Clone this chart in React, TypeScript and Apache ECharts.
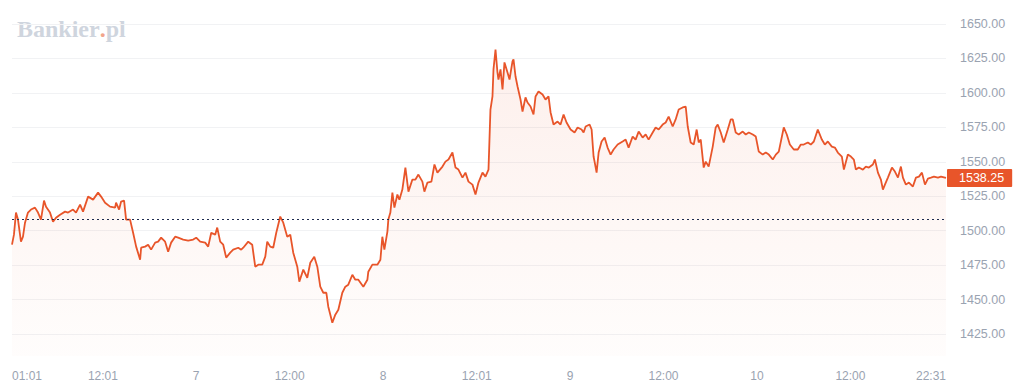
import React, { useEffect, useRef } from "react";
import * as echarts from "echarts";

// hours since day 6, 00:00
const times: number[] = [
  0.35, 0.6, 0.86, 1.12, 1.38, 1.5, 1.76, 2.02, 2.4, 2.79,
  3.3, 3.69, 4.07, 4.46, 4.72, 5.23, 5.62, 6.0, 6.52, 7.16,
  7.55, 8.19, 8.57, 9.09, 9.47, 10.12, 10.76, 11.4, 11.79, 12.3,
  12.94, 13.59, 13.71, 14.1, 14.36, 14.74, 15.0, 15.51, 15.9, 16.29,
  16.8, 16.93, 17.44, 17.83, 18.21, 18.73, 19.11, 19.5, 20.01, 20.4,
  20.78, 21.3, 21.68, 22.33, 22.97, 23.61, 24.0, 24.51, 25.15, 25.54,
  25.93, 26.44, 26.7, 27.08, 27.47, 27.85, 28.37, 28.75, 29.4, 29.78,
  30.04, 30.68, 31.19, 31.58, 31.97, 32.48, 32.87, 33.12, 33.51, 33.89,
  34.28, 34.79, 35.18, 35.69, 36.08, 36.46, 36.98, 37.24, 37.75, 38.26,
  38.65, 39.16, 39.55, 39.93, 40.32, 40.71, 40.96, 41.48, 41.86, 42.25,
  42.76, 43.15, 43.53, 44.05, 44.43, 44.82, 45.46, 45.98, 46.1, 46.62,
  47.26, 47.65, 47.9, 48.16, 48.55, 48.67, 48.93, 49.19, 49.45, 49.83,
  50.09, 50.47, 50.86, 51.25, 51.76, 52.15, 52.53, 53.04, 53.3, 53.69,
  54.2, 54.59, 54.97, 55.62, 56.0, 56.39, 56.9, 57.29, 57.67, 58.19,
  58.57, 58.96, 59.47, 59.86, 60.24, 60.76, 61.14, 61.53, 61.78, 62.04,
  62.17, 62.43, 62.68, 62.81, 63.07, 63.33, 63.58, 63.97, 64.23, 64.61,
  64.74, 65.0, 65.26, 65.64, 65.9, 66.28, 66.54, 66.93, 67.31, 67.57,
  67.95, 68.47, 68.85, 69.24, 69.5, 69.88, 70.4, 70.78, 71.17, 71.55,
  72.07, 72.58, 72.97, 73.48, 73.74, 74.0, 74.51, 74.77, 75.02, 75.15,
  75.41, 75.67, 76.05, 76.44, 76.82, 77.21, 77.59, 78.11, 78.75, 79.14,
  79.52, 80.04, 80.42, 80.81, 81.32, 81.71, 82.09, 82.61, 82.99, 83.38,
  83.89, 84.28, 84.66, 85.18, 85.56, 85.95, 86.46, 86.85, 87.11, 87.49,
  87.88, 88.26, 88.52, 88.78, 89.16, 89.42, 89.8, 90.32, 90.7, 90.96,
  91.35, 91.73, 92.25, 92.63, 92.89, 93.27, 93.66, 94.17, 94.56, 94.95,
  95.46, 95.85, 96.23, 96.74, 97.13, 97.52, 98.03, 98.42, 98.8, 99.44,
  99.83, 100.22, 100.73, 101.24, 101.63, 102.01, 102.53, 102.91, 103.3, 103.81,
  104.33, 104.71, 105.1, 105.61, 106.0, 106.38, 106.9, 107.16, 107.67, 108.06,
  108.44, 108.7, 109.08, 109.6, 109.98, 110.37, 110.88, 111.14, 111.53, 111.91,
  112.17, 112.43, 112.81, 113.33, 113.71, 114.1, 114.48, 114.74, 115.12, 115.51,
  116.02, 116.41, 116.8, 117.18, 117.57, 117.95, 118.34, 118.72, 119.24, 119.62,
  120.27,
];

const prices: number[] = [
  1489.8, 1497.1, 1513.1, 1508.0, 1497.1, 1492.0, 1495.6, 1505.8, 1513.1, 1515.3,
  1516.7, 1513.1, 1508.0, 1521.8, 1517.4, 1513.1, 1506.5, 1509.4, 1511.6, 1513.8,
  1513.1, 1515.3, 1513.1, 1518.9, 1513.8, 1524.7, 1522.5, 1527.6, 1524.7, 1520.3,
  1517.4, 1516.7, 1520.3, 1515.3, 1521.1, 1521.8, 1508.0, 1508.0, 1498.5, 1488.4,
  1478.9, 1487.6, 1488.4, 1489.8, 1486.2, 1491.3, 1492.0, 1494.9, 1492.0, 1484.7,
  1491.3, 1495.6, 1494.9, 1493.5, 1492.7, 1493.5, 1494.9, 1492.0, 1491.3, 1488.4,
  1498.5, 1497.1, 1502.2, 1492.0, 1489.8, 1480.4, 1484.0, 1486.2, 1487.6, 1486.2,
  1487.6, 1492.0, 1489.8, 1473.8, 1475.3, 1475.3, 1481.1, 1492.0, 1488.4, 1487.6,
  1498.5, 1510.2, 1505.8, 1495.6, 1497.1, 1484.0, 1473.8, 1462.9, 1471.7, 1465.8,
  1476.7, 1481.1, 1473.8, 1459.3, 1454.9, 1454.9, 1444.8, 1433.1, 1439.0, 1442.6,
  1454.9, 1459.3, 1460.8, 1468.0, 1464.4, 1464.4, 1459.3, 1464.4, 1470.2, 1475.3,
  1475.3, 1478.9, 1495.6, 1486.2, 1499.3, 1508.0, 1513.1, 1527.6, 1516.7, 1526.2,
  1522.5, 1529.8, 1545.8, 1528.3, 1537.1, 1537.1, 1540.7, 1535.6, 1528.3, 1534.9,
  1535.6, 1548.0, 1542.1, 1546.5, 1550.1, 1551.6, 1556.7, 1545.8, 1544.3, 1538.5,
  1542.1, 1535.6, 1533.4, 1526.2, 1534.9, 1542.1, 1539.2, 1544.3, 1587.9, 1597.4,
  1617.0, 1631.5, 1614.8, 1609.7, 1617.0, 1602.5, 1622.1, 1614.8, 1609.7, 1622.8,
  1624.3, 1611.9, 1604.6, 1595.2, 1586.5, 1596.7, 1593.0, 1590.1, 1584.3, 1597.4,
  1601.0, 1598.8, 1595.2, 1597.4, 1585.8, 1577.0, 1579.2, 1577.0, 1584.3, 1578.5,
  1573.4, 1571.2, 1574.9, 1573.4, 1571.2, 1575.6, 1577.0, 1573.4, 1553.8, 1550.1,
  1542.1, 1556.7, 1564.7, 1567.6, 1560.3, 1555.2, 1558.9, 1562.5, 1564.7, 1566.1,
  1560.3, 1568.3, 1566.1, 1571.9, 1567.6, 1569.8, 1566.1, 1571.2, 1574.9, 1573.4,
  1577.0, 1578.5, 1582.8, 1575.6, 1580.7, 1587.9, 1589.4, 1590.1, 1575.6, 1564.0,
  1562.5, 1573.4, 1564.0, 1566.1, 1545.8, 1550.1, 1546.5, 1561.0, 1574.9, 1577.0,
  1571.2, 1564.0, 1573.4, 1580.7, 1580.7, 1571.2, 1569.8, 1571.9, 1569.8, 1571.2,
  1569.8, 1568.3, 1557.4, 1555.2, 1556.7, 1555.2, 1551.6, 1555.2, 1557.4, 1574.9,
  1569.8, 1562.5, 1558.9, 1558.9, 1562.5, 1562.5, 1564.0, 1562.5, 1564.7, 1573.4,
  1566.1, 1562.5, 1564.7, 1561.0, 1560.3, 1556.7, 1553.8, 1544.3, 1555.2, 1553.8,
  1551.6, 1544.3, 1545.8, 1544.3, 1546.5, 1545.8, 1548.0, 1551.6, 1542.1, 1537.1,
  1529.8, 1533.4, 1538.5, 1545.8, 1542.9, 1538.5, 1546.5, 1538.5, 1533.4, 1534.9,
  1532.0, 1538.5, 1539.2, 1542.1, 1533.4, 1537.8, 1538.5, 1539.2, 1538.5, 1539.2,
  1538.25,
];

const referencePrice = 1508;
const lastPrice = 1538.25;

const xTickValues: number[] = [times[0], 12.02, 24, 36, 48, 60.02, 72, 84, 96, 108, times[times.length - 1]];
const xTickLabels: string[] = ["01:01", "12:01", "7", "12:00", "8", "12:01", "9", "12:00", "10", "12:00", "22:31"];

const LINE = "#e8552a";
const LABEL = "#9aa3b1";

export default function App() {
  const ref = useRef<HTMLDivElement>(null);

  useEffect(() => {
    if (!ref.current) return;
    const chart = echarts.init(ref.current, undefined, { renderer: "svg" });
    const data = times.map((t, i) => [t, prices[i]]);
    chart.setOption({
      animation: false,
      backgroundColor: "#ffffff",
      grid: { left: 12, right: 78, top: 24, bottom: 23.6, containLabel: false },
      graphic: [
        {
          type: "text",
          left: 17,
          top: 17,
          silent: true,
          style: {
            text: "{a|Bankier}{b|.}{a|pl}",
            rich: {
              a: { fill: "#cfd5de", font: 'bold 24px "Liberation Serif", "DejaVu Serif", serif' },
              b: { fill: "#f2a58a", font: 'bold 24px "Liberation Serif", "DejaVu Serif", serif' },
            },
          },
        },
      ],
      xAxis: {
        type: "value",
        min: times[0],
        max: times[times.length - 1],
        axisLine: { show: false },
        axisTick: { show: false },
        splitLine: { show: false },
        axisLabel: {
          customValues: xTickValues,
          formatter: (v: number) => {
            const i = xTickValues.findIndex((t) => Math.abs(t - v) < 1e-6);
            return i >= 0 ? xTickLabels[i] : "";
          },
          color: LABEL,
          fontSize: 12,
          fontFamily: '"Liberation Sans", Arial, sans-serif',
          margin: 2,
          alignMinLabel: "left",
          alignMaxLabel: "right",
        },
      },
      yAxis: {
        type: "value",
        position: "right",
        min: 1400,
        max: 1650,
        interval: 25,
        axisLine: { show: false },
        axisTick: { show: false },
        splitLine: {
          show: true,
          showMinLine: false,
          showMaxLine: true,
          lineStyle: { color: "#f1f2f4", width: 1 },
        },
        axisLabel: {
          showMinLabel: false,
          showMaxLabel: true,
          formatter: (v: number) => v.toFixed(2),
          color: LABEL,
          fontSize: 12.5,
          fontFamily: '"Liberation Sans", Arial, sans-serif',
          margin: 14,
        },
      },
      series: [
        {
          type: "line",
          data,
          showSymbol: false,
          symbol: "none",
          lineStyle: { color: LINE, width: 1.8 },
          areaStyle: {
            origin: 1409,
            color: new echarts.graphic.LinearGradient(0, 0, 0, 1, [
              { offset: 0, color: "rgba(232,85,42,0.13)" },
              { offset: 1, color: "rgba(232,85,42,0.02)" },
            ]),
          },
          markLine: {
            silent: true,
            symbol: "none",
            data: [
              {
                yAxis: referencePrice,
                lineStyle: { color: "#1d2b4f", type: [2, 3], width: 1 },
                label: { show: false },
              },
              {
                yAxis: lastPrice,
                lineStyle: { color: "rgba(0,0,0,0)", width: 1 },
                label: {
                  show: true,
                  position: "end",
                  distance: 1,
                  formatter: lastPrice.toFixed(2),
                  color: "#ffffff",
                  backgroundColor: LINE,
                  fontSize: 12.5,
                  fontFamily: '"Liberation Sans", Arial, sans-serif',
                  lineHeight: 13,
                  padding: [3, 8, 2, 12],
                  borderRadius: 1,
                },
              },
            ],
          },
        },
      ],
    });
    return () => chart.dispose();
  }, []);

  return (
    <div
      ref={ref}
      style={{ position: "fixed", left: 0, top: 0, width: 1024, height: 392 }}
    />
  );
}
